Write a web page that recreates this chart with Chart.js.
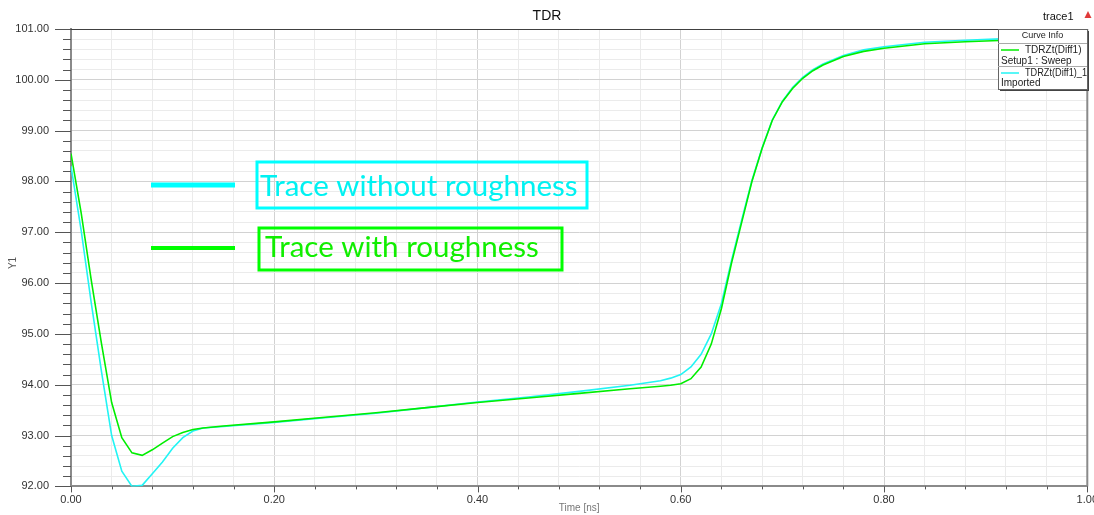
<!DOCTYPE html>
<html>
<head>
<meta charset="utf-8">
<script src="https://cdn.jsdelivr.net/npm/chart.js@4"></script>
<style>
  html, body { margin: 0; padding: 0; background: #fff; overflow: hidden; }
  #wrap { position: absolute; left: 0; top: 0; width: 1105px; height: 515px; }
</style>
</head>
<body>
<div id="wrap"><canvas id="chart-tdr"></canvas></div>
<script>
// ── DATA ──
const times = [0, 0.01, 0.02, 0.03, 0.04, 0.05, 0.06, 0.07, 0.08, 0.09, 0.10, 0.11, 0.12, 0.13, 0.15,
  0.20, 0.25, 0.30, 0.35, 0.40, 0.45, 0.50, 0.55, 0.58, 0.59,
  0.60, 0.61, 0.62, 0.63, 0.64, 0.65, 0.66, 0.67, 0.68, 0.69, 0.70, 0.71, 0.72, 0.73, 0.74,
  0.76, 0.78, 0.80, 0.84, 0.88, 0.92, 0.96, 1.00];

// TDRZt(Diff1) - Setup1 : Sweep (with roughness)
const withRoughness = [98.55, 97.38, 96.05, 94.81, 93.65, 92.96, 92.66, 92.61, 92.72, 92.85, 92.98, 93.06, 93.12, 93.15, 93.19,
  93.27, 93.36, 93.45, 93.55, 93.65, 93.74, 93.83, 93.92, 93.97, 93.99,
  94.02, 94.12, 94.35, 94.80, 95.50, 96.40, 97.20, 98.00, 98.65, 99.20, 99.57, 99.83, 100.03, 100.18, 100.29,
  100.46, 100.56, 100.62, 100.71, 100.75, 100.78, 100.80, 100.81];

// TDRZt(Diff1)_1 - Imported (without roughness)
const withoutRoughness = [98.30, 97.04, 95.60, 94.26, 93.00, 92.30, 92.00, 92.02, 92.25, 92.48, 92.75, 92.96, 93.09, 93.15, 93.18,
  93.26, 93.35, 93.44, 93.55, 93.66, 93.76, 93.87, 93.99, 94.08, 94.13,
  94.20, 94.35, 94.60, 95.00, 95.60, 96.45, 97.25, 98.02, 98.66, 99.21, 99.58, 99.85, 100.05, 100.20, 100.31,
  100.48, 100.59, 100.65, 100.74, 100.78, 100.81, 100.82, 100.83];

const xMin = 0, xMax = 1, xStep = 0.04, xMajor = 0.2;
const yMin = 92, yMax = 101, yStep = 0.2, yMajor = 1;

const GREEN = '#00ee00';
const CYAN = '#22f4f4';
const FONT = '"Liberation Sans", Arial, sans-serif';

const isMajor = (v, m) => Math.abs(v / m - Math.round(v / m)) < 1e-6;
const gridColor = m => c => isMajor(c.tick.value, m) ? '#d2d2d2' : '#ebebeb';

// ── DECORATIONS: ticks, frame, annotations, curve info box ──
const decor = {
  id: 'decor',
  afterDraw(chart) {
    const { ctx, chartArea: a, scales: { x, y } } = chart;
    ctx.save();

    // frame
    ctx.strokeStyle = '#404040';
    ctx.lineWidth = 1;
    ctx.beginPath();
    ctx.moveTo(a.left, a.top + 0.5); ctx.lineTo(a.right, a.top + 0.5);
    ctx.stroke();
    ctx.strokeStyle = '#8a8a8a';
    ctx.lineWidth = 2;
    ctx.beginPath();
    ctx.moveTo(a.right, a.top); ctx.lineTo(a.right, a.bottom);
    ctx.stroke();

    // tick marks
    ctx.strokeStyle = '#555';
    ctx.lineWidth = 1;
    ctx.beginPath();
    y.ticks.forEach(t => {
      const py = Math.round(y.getPixelForValue(t.value)) + 0.5;
      const len = isMajor(t.value, yMajor) ? 16 : 8;
      ctx.moveTo(a.left - len, py); ctx.lineTo(a.left, py);
    });
    x.ticks.forEach(t => {
      const px = Math.round(x.getPixelForValue(t.value)) + 0.5;
      const len = isMajor(t.value, xMajor) ? 6 : 3;
      ctx.moveTo(px, a.bottom); ctx.lineTo(px, a.bottom + len);
    });
    ctx.stroke();

    // title + trace label
    ctx.fillStyle = '#111';
    ctx.font = '14px ' + FONT;
    ctx.textAlign = 'center';
    ctx.textBaseline = 'middle';
    ctx.fillText('TDR', 547, 16);
    ctx.font = '11px ' + FONT;
    ctx.textAlign = 'left';
    ctx.fillText('trace1', 1043, 17);
    ctx.fillStyle = '#e03a3a';
    ctx.beginPath();
    ctx.moveTo(1088, 11); ctx.lineTo(1091.5, 18); ctx.lineTo(1084.5, 18); ctx.closePath();
    ctx.fill();

    // Y1 axis title
    ctx.save();
    ctx.translate(13, 263);
    ctx.rotate(-Math.PI / 2);
    ctx.fillStyle = '#555';
    ctx.font = '10px ' + FONT;
    ctx.textAlign = 'center';
    ctx.fillText('Y1', 0, 0);
    ctx.restore();

    // annotations
    ctx.lineCap = 'butt';
    ctx.strokeStyle = '#00ffff';
    ctx.lineWidth = 5;
    ctx.beginPath(); ctx.moveTo(151, 185); ctx.lineTo(235, 185); ctx.stroke();
    ctx.lineWidth = 3;
    ctx.strokeRect(257, 162, 330, 46);
    ctx.strokeStyle = '#00ff00';
    ctx.lineWidth = 4;
    ctx.beginPath(); ctx.moveTo(151, 248); ctx.lineTo(235, 248); ctx.stroke();
    ctx.lineWidth = 3;
    ctx.strokeRect(259, 228, 303, 42);

    ctx.font = '29.5px Lato, "Open Sans", sans-serif';
    ctx.textAlign = 'left';
    ctx.textBaseline = 'alphabetic';
    ctx.fillStyle = '#00f2f2';
    ctx.fillText('Trace without roughness', 260, 196, 322);
    ctx.fillStyle = '#11ee00';
    ctx.fillText('Trace with roughness', 265, 257, 278);

    // curve info box
    const bx = 998, by = 29, bw = 89, bh = 60;
    ctx.fillStyle = '#fff';
    ctx.fillRect(bx, by, bw, bh);
    ctx.fillStyle = '#444';
    ctx.fillRect(bx + bw, by + 2, 2, bh);
    ctx.fillRect(bx + 2, by + bh, bw, 2);
    ctx.strokeStyle = '#666';
    ctx.lineWidth = 1;
    ctx.strokeRect(bx + 0.5, by + 0.5, bw, bh);
    ctx.strokeStyle = '#aaa';
    ctx.beginPath();
    ctx.moveTo(bx, 43.5); ctx.lineTo(bx + bw, 43.5);
    ctx.moveTo(bx, 66.5); ctx.lineTo(bx + bw, 66.5);
    ctx.stroke();
    ctx.fillStyle = '#222';
    ctx.font = '9px ' + FONT;
    ctx.textAlign = 'center';
    ctx.textBaseline = 'middle';
    ctx.fillText('Curve Info', bx + bw / 2, 36);
    ctx.textAlign = 'left';
    ctx.font = '10px ' + FONT;
    ctx.fillText('TDRZt(Diff1)', 1025, 50.5, 60);
    ctx.fillText('Setup1 : Sweep', 1001, 61);
    ctx.fillText('TDRZt(Diff1)_1', 1025, 73, 62);
    ctx.fillText('Imported', 1001, 83);
    ctx.lineWidth = 1.5;
    ctx.strokeStyle = GREEN;
    ctx.beginPath(); ctx.moveTo(1001, 50); ctx.lineTo(1019, 50); ctx.stroke();
    ctx.strokeStyle = CYAN;
    ctx.beginPath(); ctx.moveTo(1001, 73); ctx.lineTo(1019, 73); ctx.stroke();

    ctx.restore();
  }
};

new Chart(document.getElementById('chart-tdr').getContext('2d'), {
  type: 'line',
  data: {
    datasets: [
      {
        label: 'Trace with roughness',
        data: times.map((t, i) => ({ x: t, y: withRoughness[i] })),
        borderColor: GREEN,
        borderWidth: 1.6,
        pointRadius: 0,
        tension: 0
      },
      {
        label: 'Trace without roughness',
        data: times.map((t, i) => ({ x: t, y: withoutRoughness[i] })),
        borderColor: CYAN,
        borderWidth: 1.6,
        pointRadius: 0,
        tension: 0
      }
    ]
  },
  options: {
    responsive: true,
    maintainAspectRatio: false,
    animation: false,
    layout: { padding: { left: 0, right: 13, top: 29, bottom: 0 } },
    scales: {
      x: {
        type: 'linear',
        min: xMin, max: xMax,
        afterFit: s => { s.height = 28; },
        ticks: {
          stepSize: xStep,
          autoSkip: false,
          maxRotation: 0,
          padding: 7,
          color: '#333',
          font: { family: FONT, size: 11 },
          callback: v => isMajor(v, xMajor) ? v.toFixed(2) : ''
        },
        grid: { color: gridColor(xMajor), drawTicks: false },
        border: { color: '#8a8a8a', width: 2 },
        title: {
          display: true,
          text: 'Time [ns]',
          color: '#777',
          font: { family: FONT, size: 10 },
          padding: { top: 0, bottom: 0 }
        }
      },
      y: {
        min: yMin, max: yMax,
        afterFit: s => { s.width = 71; },
        ticks: {
          stepSize: yStep,
          autoSkip: false,
          padding: 22,
          color: '#333',
          font: { family: FONT, size: 11 },
          callback: v => isMajor(v, yMajor) ? v.toFixed(2) : ''
        },
        grid: { color: gridColor(yMajor), drawTicks: false },
        border: { color: '#8a8a8a', width: 2 }
      }
    },
    plugins: {
      legend: { display: false },
      tooltip: { enabled: false }
    }
  },
  plugins: [decor]
});
</script>
</body>
</html>
